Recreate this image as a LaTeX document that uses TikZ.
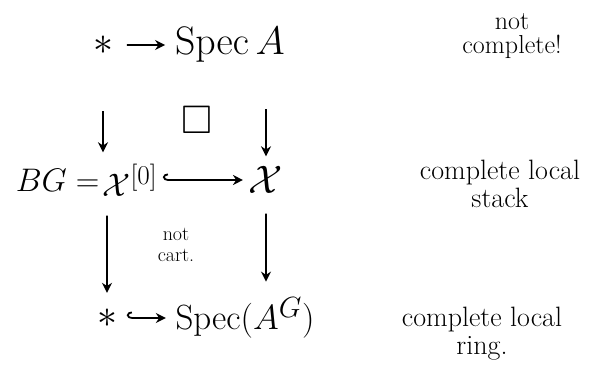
\documentclass[tikz,border=0pt]{standalone}
\usepackage{amssymb}
\usetikzlibrary{arrows.meta}
\tikzset{
  obj/.style={inner sep=1pt, font=\Huge, scale=1.6},
  note/.style={align=center, inner sep=0pt, font=\fontsize{28}{28}\selectfont},
  map/.style={line width=1.8pt, -{Stealth[length=10pt,width=10pt]}},
  incl/.style={line width=1.8pt, {Hooks[right,length=5pt,width=13pt]}-{Stealth[length=10pt,width=10pt]}}
}
\begin{document}
\begin{tikzpicture}[x=1pt,y=1pt]
  \useasboundingbox (0,0) rectangle (605,-383);
  % objects of the two squares
  \node[obj] (star1) at (103,-45) {$*$};
  \node[obj] (specA) at (230,-45) {$\mathrm{Spec}\,A$};
  \node[obj, scale=0.82] (X0) at (130,-180) {$\mathcal{X}^{[0]}$};
  \node[obj, scale=0.82, anchor=east] (bgeq) at (X0.west) {$BG=$};
  \node[obj] (X) at (266,-180) {$\mathcal{X}$};
  \node[obj] (star2) at (107,-318) {$*$};
  \node[obj, scale=0.88] (specAG) at (245,-318) {$\mathrm{Spec}(A^G)$};
  % cartesian mark and remark
  \node[obj] (sq) at (197,-120) {$\square$};
  \node[note, font=\fontsize{20}{21}\selectfont] (notcart) at (176,-245) {not\\cart.};
  % side notes
  \node[note, font=\fontsize{26}{24}\selectfont] (n1) at (512,-36) {not\\complete!};
  \node[note] (n2) at (500,-184) {complete local\\stack};
  \node[note] (n3) at (482,-334) {complete local\\ring.};
  % maps
  \draw[map, shorten <=55pt, shorten >=10pt] (star1) -- (star1 |- X0.north);
  \draw[map, shorten <=12pt, shorten >=8pt] (star1) -- (specA);
  \draw[map, shorten <=45pt, shorten >=6pt] (specA.south -| X) -- (X |- X0.north);
  \draw[incl, shorten <=4pt, shorten >=4pt] (X0) -- (X);
  \draw[map, shorten <=18pt, shorten >=14pt] (X0.south -| star2) -- (star2);
  \draw[map, shorten <=18pt, shorten >=14pt] (X) -- (X |- specAG.north);
  \draw[incl, shorten <=8pt, shorten >=8pt] (star2) -- (specAG);
\end{tikzpicture}
\end{document}
